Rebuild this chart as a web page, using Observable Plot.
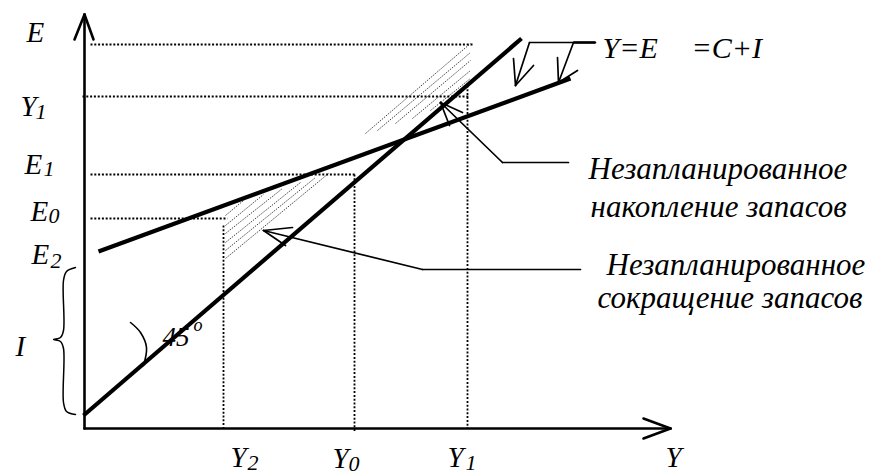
<!DOCTYPE html>
<html><head><meta charset="utf-8">
<script src="https://cdn.jsdelivr.net/npm/d3@7"></script>
<script src="https://cdn.jsdelivr.net/npm/@observablehq/plot@0.6"></script>
<style>html,body{margin:0;padding:0;background:#fff;} #chart svg{display:block;background:#fff}
#chart svg text{font-family:'Liberation Serif','Times New Roman',serif !important;}</style>
</head><body><div id="chart"></div>
<script>
// Diagram units: origin at the corner of the axes, x to the right, y upwards.

// Axes (with open arrow heads)
const axes = [
  {x1: 0, y1: 0, x2: 0, y2: 414}, {x1: -10, y1: 389, x2: 0, y2: 414}, {x1: 9, y1: 389, x2: 0, y2: 414},
  {x1: 0, y1: 0, x2: 586, y2: 0}, {x1: 559, y1: 10, x2: 586, y2: 0}, {x1: 559, y1: -10, x2: 586, y2: 0}
];

// Main schedules
const line45 = {x1: -1, y1: 13, x2: 437, y2: 390};      // Y = E
const lineAE = {x1: 14, y1: 177, x2: 486, y2: 350};     // E = C + I

// Levels
const levelE = 384, levelY1 = 332, levelE1 = 254, levelE0 = 210;
const incomeY2 = 139, incomeY0 = 270, incomeY1 = 383;

// Dotted guide lines built from the levels
const guides = [
  {x1: 6, y1: levelE, x2: 389, y2: levelE},
  {x1: -2, y1: levelY1, x2: 384, y2: levelY1},
  {x1: incomeY1, y1: 343, x2: incomeY1, y2: 0},
  {x1: 6, y1: levelE1, x2: 272, y2: levelE1},
  {x1: incomeY0, y1: levelE1, x2: incomeY0, y2: -4},
  {x1: 6, y1: levelE0, x2: 143, y2: levelE0},
  {x1: incomeY2, y1: 203, x2: incomeY2, y2: 0}
];

// Hatching: unplanned inventory reduction (lower) and accumulation (upper)
const hatchLow = [
  {x1: 141, y1: 170, x2: 244, y2: 255},
  {x1: 141, y1: 178, x2: 231, y2: 251},
  {x1: 141, y1: 186, x2: 216, y2: 246},
  {x1: 141, y1: 195, x2: 198, y2: 240},
  {x1: 141, y1: 203, x2: 179, y2: 234},
  {x1: 141, y1: 213, x2: 159, y2: 228}
];
const hatchHigh = [
  {x1: 281, y1: 295, x2: 386, y2: 385},
  {x1: 293, y1: 298, x2: 386, y2: 376},
  {x1: 311, y1: 305, x2: 386, y2: 368},
  {x1: 328, y1: 310, x2: 386, y2: 358},
  {x1: 346, y1: 318, x2: 386, y2: 350}
];

// Pointer arrows (thin)
const pointers = [
  {x1: 484, y1: 266, x2: 418, y2: 266}, {x1: 418, y1: 266, x2: 356, y2: 326},
  {x1: 356, y1: 326, x2: 378, y2: 316}, {x1: 356, y1: 326, x2: 365, y2: 303},
  {x1: 496, y1: 159, x2: 338, y2: 159}, {x1: 338, y1: 159, x2: 179, y2: 198},
  {x1: 179, y1: 198, x2: 208, y2: 201}, {x1: 179, y1: 198, x2: 201, y2: 183},
  {x1: 445, y1: 386, x2: 511, y2: 386}, {x1: 445, y1: 386, x2: 431, y2: 343},
  {x1: 431, y1: 343, x2: 429, y2: 370}, {x1: 431, y1: 343, x2: 449, y2: 363},
  {x1: 489, y1: 386, x2: 474, y2: 346}, {x1: 474, y1: 346, x2: 473, y2: 371},
  {x1: 474, y1: 346, x2: 493, y2: 358}
];
const pointerStub = [{x1: 489, y1: 386, x2: 511, y2: 386}];

// 45° angle arc and the brace marking I
const arc = [[46, 106], [56, 96], [62, 81], [59, 63]];
const brace = [[-9, 161], [-18, 157], [-21, 148], [-21, 98], [-24, 91], [-31, 89],
               [-24, 87], [-21, 80], [-21, 26], [-18, 17], [-9, 14]];

// Labels: main letter and its subscript (label positions)
const labels = [
  {t: "E", s: "",  x: -58, y: 387, sx: 0,   sy: 0},
  {t: "Y", s: "1", x: -64, y: 313, sx: -49, sy: 310},
  {t: "E", s: "1", x: -60, y: 255, sx: -41, sy: 253},
  {t: "E", s: "0", x: -54, y: 208, sx: -36, sy: 206},
  {t: "E", s: "2", x: -53, y: 165, sx: -34, sy: 161},
  {t: "I", s: "",  x: -69, y: 73,  sx: 0,   sy: 0},
  {t: "Y", s: "2", x: 146, y: -38, sx: 163, sy: -41},
  {t: "Y", s: "0", x: 248, y: -39, sx: 264, sy: -42},
  {t: "Y", s: "1", x: 363, y: -38, sx: 381, sy: -41},
  {t: "Y", s: "",  x: 581, y: -38, sx: 0,   sy: 0}
];
const formulaParts = [
  {t: "Y=E", x: 518, y: 371},
  {t: "=C+I", x: 607, y: 371}
];
const notes = [
  {t: "Незапланированное", x: 504, y: 250},
  {t: "накопление запасов", x: 506, y: 212},
  {t: "Незапланированное", x: 522, y: 154},
  {t: "сокращение запасов", x: 513, y: 121}
];
const angleLabel = [{t: "45", x: 78, y: 83}];
const degreeMark = [{t: "o", x: 109, y: 98}];

const font = "'Liberation Serif', 'Times New Roman', serif";
const txt = {textAnchor: "start", lineAnchor: "bottom", fontFamily: font, fontStyle: "italic", fill: "#000"};

const chart = Plot.plot({
  width: 878, height: 475,
  marginTop: 0, marginRight: 0, marginBottom: 0, marginLeft: 0,
  x: {domain: [-84, 794], axis: null},
  y: {domain: [-47, 428], axis: null},
  style: {background: "#fff", fontFamily: font},
  marks: [
    Plot.link(hatchLow, {x1: "x1", y1: "y1", x2: "x2", y2: "y2", stroke: "#444", strokeWidth: 1, strokeDasharray: "1.5,1.2"}),
    Plot.link(hatchHigh, {x1: "x1", y1: "y1", x2: "x2", y2: "y2", stroke: "#444", strokeWidth: 1, strokeDasharray: "1.5,1.2"}),
    Plot.link(guides, {x1: "x1", y1: "y1", x2: "x2", y2: "y2", stroke: "#000", strokeWidth: 1.8, strokeDasharray: "2,1.8"}),
    Plot.link(axes, {x1: "x1", y1: "y1", x2: "x2", y2: "y2", stroke: "#000", strokeWidth: 2.6, strokeLinecap: "round"}),
    Plot.link([line45, lineAE], {x1: "x1", y1: "y1", x2: "x2", y2: "y2", stroke: "#000", strokeWidth: 4.2}),
    Plot.link(pointers, {x1: "x1", y1: "y1", x2: "x2", y2: "y2", stroke: "#000", strokeWidth: 1.7, strokeLinecap: "round"}),
    Plot.link(pointerStub, {x1: "x1", y1: "y1", x2: "x2", y2: "y2", stroke: "#000", strokeWidth: 2.6}),
    Plot.line(arc, {x: d => d[0], y: d => d[1], curve: "catmull-rom", stroke: "#000", strokeWidth: 1.6}),
    Plot.line(brace, {x: d => d[0], y: d => d[1], curve: "catmull-rom", stroke: "#000", strokeWidth: 1.5}),
    Plot.text(labels, {...txt, x: "x", y: "y", text: "t", fontSize: 29}),
    Plot.text(labels.filter(d => d.s), {...txt, x: "sx", y: "sy", text: "s", fontSize: 22}),
    Plot.text(formulaParts, {...txt, x: "x", y: "y", text: "t", fontSize: 30}),
    Plot.text(notes, {...txt, x: "x", y: "y", text: "t", fontSize: 31}),
    Plot.text(angleLabel, {...txt, x: "x", y: "y", text: "t", fontSize: 27}),
    Plot.text(degreeMark, {...txt, x: "x", y: "y", text: "t", fontSize: 18})
  ]
});
document.getElementById("chart").appendChild(chart);
</script></body></html>
